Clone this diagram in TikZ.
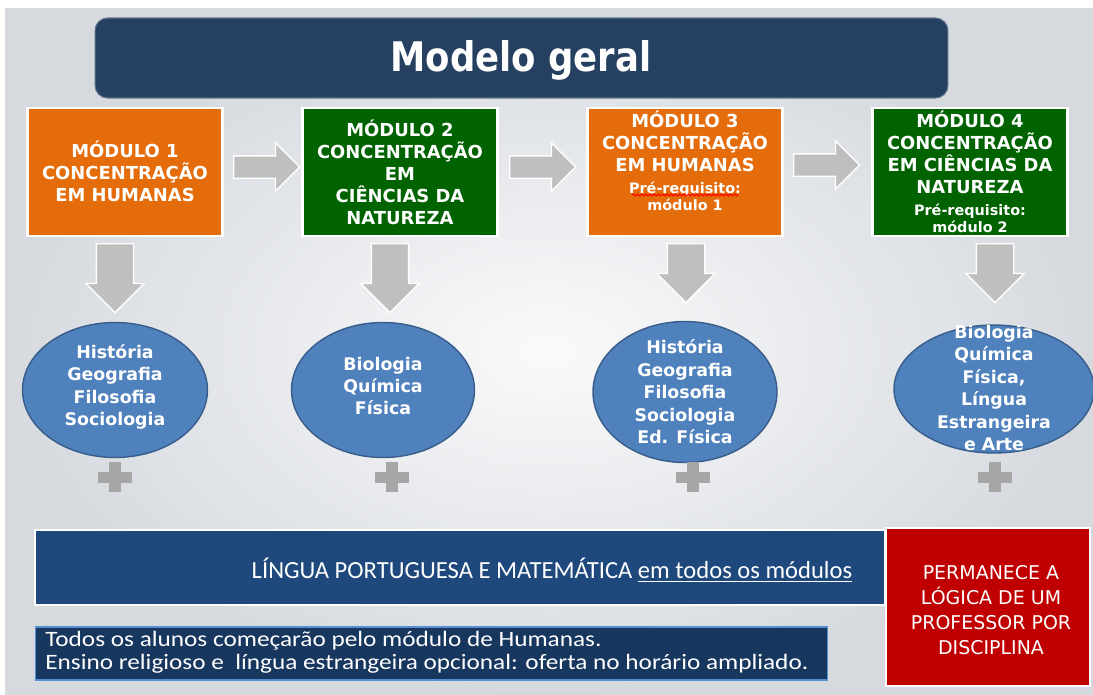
\documentclass[tikz,border=0pt]{standalone}
\usepackage{fontspec}
\setmainfont{DejaVu Sans}
\newfontfamily\titlefont[FakeStretch=0.87]{DejaVu Sans}
\newfontfamily\bandfont{Carlito}
\newfontfamily\notefont[FakeStretch=1.15]{Carlito}
\usetikzlibrary{shapes.geometric,shapes.arrows}
\usetikzlibrary{decorations.pathmorphing}
\definecolor{bginner}{RGB}{250,250,251}
\definecolor{bgouter}{RGB}{214,218,223}
\definecolor{titleblue}{RGB}{37,64,97}
\definecolor{orangem}{RGB}{228,108,10}
\definecolor{greenm}{RGB}{0,99,0}
\definecolor{arrowgray}{RGB}{191,191,191}
\definecolor{plusgray}{RGB}{166,166,166}
\definecolor{ellblue}{RGB}{79,129,189}
\definecolor{ellborder}{RGB}{56,93,138}
\definecolor{bandblue}{RGB}{31,73,125}
\definecolor{darkbox}{RGB}{23,55,94}
\definecolor{darkborder}{RGB}{85,142,213}
\definecolor{redbox}{RGB}{192,0,0}
\newcommand{\prq}{\fontsize{8.2}{9.8}\selectfont}

\begin{document}
\begin{tikzpicture}
[x=0.02cm,y=-0.02cm,
modbox/.style={rectangle,draw=white,line width=1.2pt,minimum width=3.9cm,minimum height=2.56cm,inner sep=0pt},
modtext/.style={text=white,font=\fontsize{10.2}{12.5}\selectfont\bfseries,align=center,inner sep=0pt},
rarrow/.style={single arrow,anchor=tail,draw=white,line width=0.8pt,fill=arrowgray,minimum height=1.32cm,single arrow head extend=0.26cm,inner xsep=0.05cm,inner ysep=0.21cm},
darrow/.style={single arrow,anchor=tail,shape border rotate=270,draw=white,line width=0.8pt,fill=arrowgray,single arrow head extend=0.21cm,inner xsep=0.36cm,inner ysep=0.05cm},
subj/.style={ellipse,draw=ellborder,line width=0.8pt,fill=ellblue,inner sep=0pt},
subjtext/.style={text=white,font=\fontsize{9.9}{12.8}\selectfont\bfseries,align=center,inner sep=0pt}]
\useasboundingbox (0,0) rectangle (1093,694);
\fill[white] (0,0) rectangle (1093,694);
\shade[inner color=bginner,outer color=bgouter] (5,8) rectangle (1093,694);

\node[rectangle,rounded corners=0.25cm,fill=titleblue,draw=titleblue!75!white,line width=0.6pt,minimum width=17.06cm,minimum height=1.6cm] (title) at (521.5,58) {};
\node[text=white,font=\titlefont\fontsize{23.2}{26}\selectfont\bfseries] (titlet) at (521,60) {Modelo geral};

\node[modbox,fill=orangem] (m1) at (125,172) {};
\node[modbox,fill=greenm] (m2) at (400,172) {};
\node[modbox,fill=orangem] (m3) at (685,172) {};
\node[modbox,fill=greenm] (m4) at (970,172) {};

\node[modtext] (m1t) at (125,171) {MÓDULO 1\\CONCENTRAÇÃO\\EM HUMANAS};
\node[modtext] (m2t) at (400,172) {MÓDULO 2\\CONCENTRAÇÃO\\EM\\CIÊNCIAS DA\\NATUREZA};
\node[modtext] (m3t) at (685,161) {MÓDULO 3\\CONCENTRAÇÃO\\EM HUMANAS\\{\prq Pré-requisito:}\\[-2.9pt]{\prq módulo 1}};
\node[modtext] (m4t) at (970,172) {MÓDULO 4\\CONCENTRAÇÃO\\EM CIÊNCIAS DA\\NATUREZA\\{\prq Pré-requisito:}\\[-2.9pt]{\prq módulo 2}};
\draw[red,line width=0.6pt,decorate,decoration={snake,amplitude=0.5pt,segment length=2.4pt}] (632,195) -- (738,195);

\node[rarrow] (a1) at (233,167) {};
\node[rarrow] (a2) at (509,167) {};
\node[rarrow] (a3) at (793,165) {};

\node[darrow,minimum height=1.38cm] (d1) at (115,243) {};
\node[darrow,minimum height=1.38cm] (d2) at (390,243) {};
\node[darrow,minimum height=1.18cm] (d3) at (686,243) {};
\node[darrow,minimum height=1.18cm] (d4) at (995,243) {};

\node[subj,minimum width=3.7cm,minimum height=2.7cm] (e1) at (115,390) {};
\node[subj,minimum width=3.66cm,minimum height=2.7cm] (e2) at (383,390) {};
\node[subj,minimum width=3.68cm,minimum height=2.82cm] (e3) at (685,392) {};
\node[subj,minimum width=4.0cm,minimum height=2.56cm] (e4) at (994,389) {};

\node[subjtext] (e1t) at (115,387) {História\\Geografia\\Filosofia\\Sociologia};
\node[subjtext] (e2t) at (383,386) {Biologia\\Química\\Física};
\node[subjtext] (e3t) at (685,392) {História\\Geografia\\Filosofia\\Sociologia\\Ed. Física};
\node[subjtext] (e4t) at (994,388) {Biologia\\Química\\Física,\\Língua\\Estrangeira\\e Arte};

\foreach \px in {115,392,693,995} {
\fill[plusgray] (\px-17,472) rectangle (\px+17,483);
\fill[plusgray] (\px-6,462) rectangle (\px+6,492);
}

\node[rectangle,fill=bandblue,draw=white,line width=1pt,minimum width=17cm,minimum height=1.5cm,inner sep=0pt] (band) at (460,567.5) {};
\node[text=white,font=\bandfont\fontsize{14}{16}\selectfont,inner sep=0pt] (bandt) at (552,570) {LÍNGUA PORTUGUESA E MATEMÁTICA \underline{em todos os módulos}};

\node[rectangle,fill=darkbox,draw=darkborder,line width=0.6pt,minimum width=15.86cm,minimum height=1.06cm,inner sep=0pt] (note) at (431.5,653.5) {};
\node[anchor=west,text=white,font=\notefont\fontsize{12.5}{13}\selectfont,align=left,inner sep=0pt] (notet) at (45,652.5) {Todos os alunos começarão pelo módulo de Humanas.\\Ensino religioso e \ língua estrangeira opcional: oferta no horário ampliado.};

\node[rectangle,fill=redbox,draw=white,line width=0.6pt,minimum width=4.08cm,minimum height=3.16cm,inner sep=0pt] (rule) at (988,607) {};
\node[text=white,font=\fontsize{10.8}{14.2}\selectfont,align=center,inner sep=0pt] (rulet) at (991,610) {PERMANECE A\\LÓGICA DE UM\\PROFESSOR POR\\DISCIPLINA};
\end{tikzpicture}
\end{document}
